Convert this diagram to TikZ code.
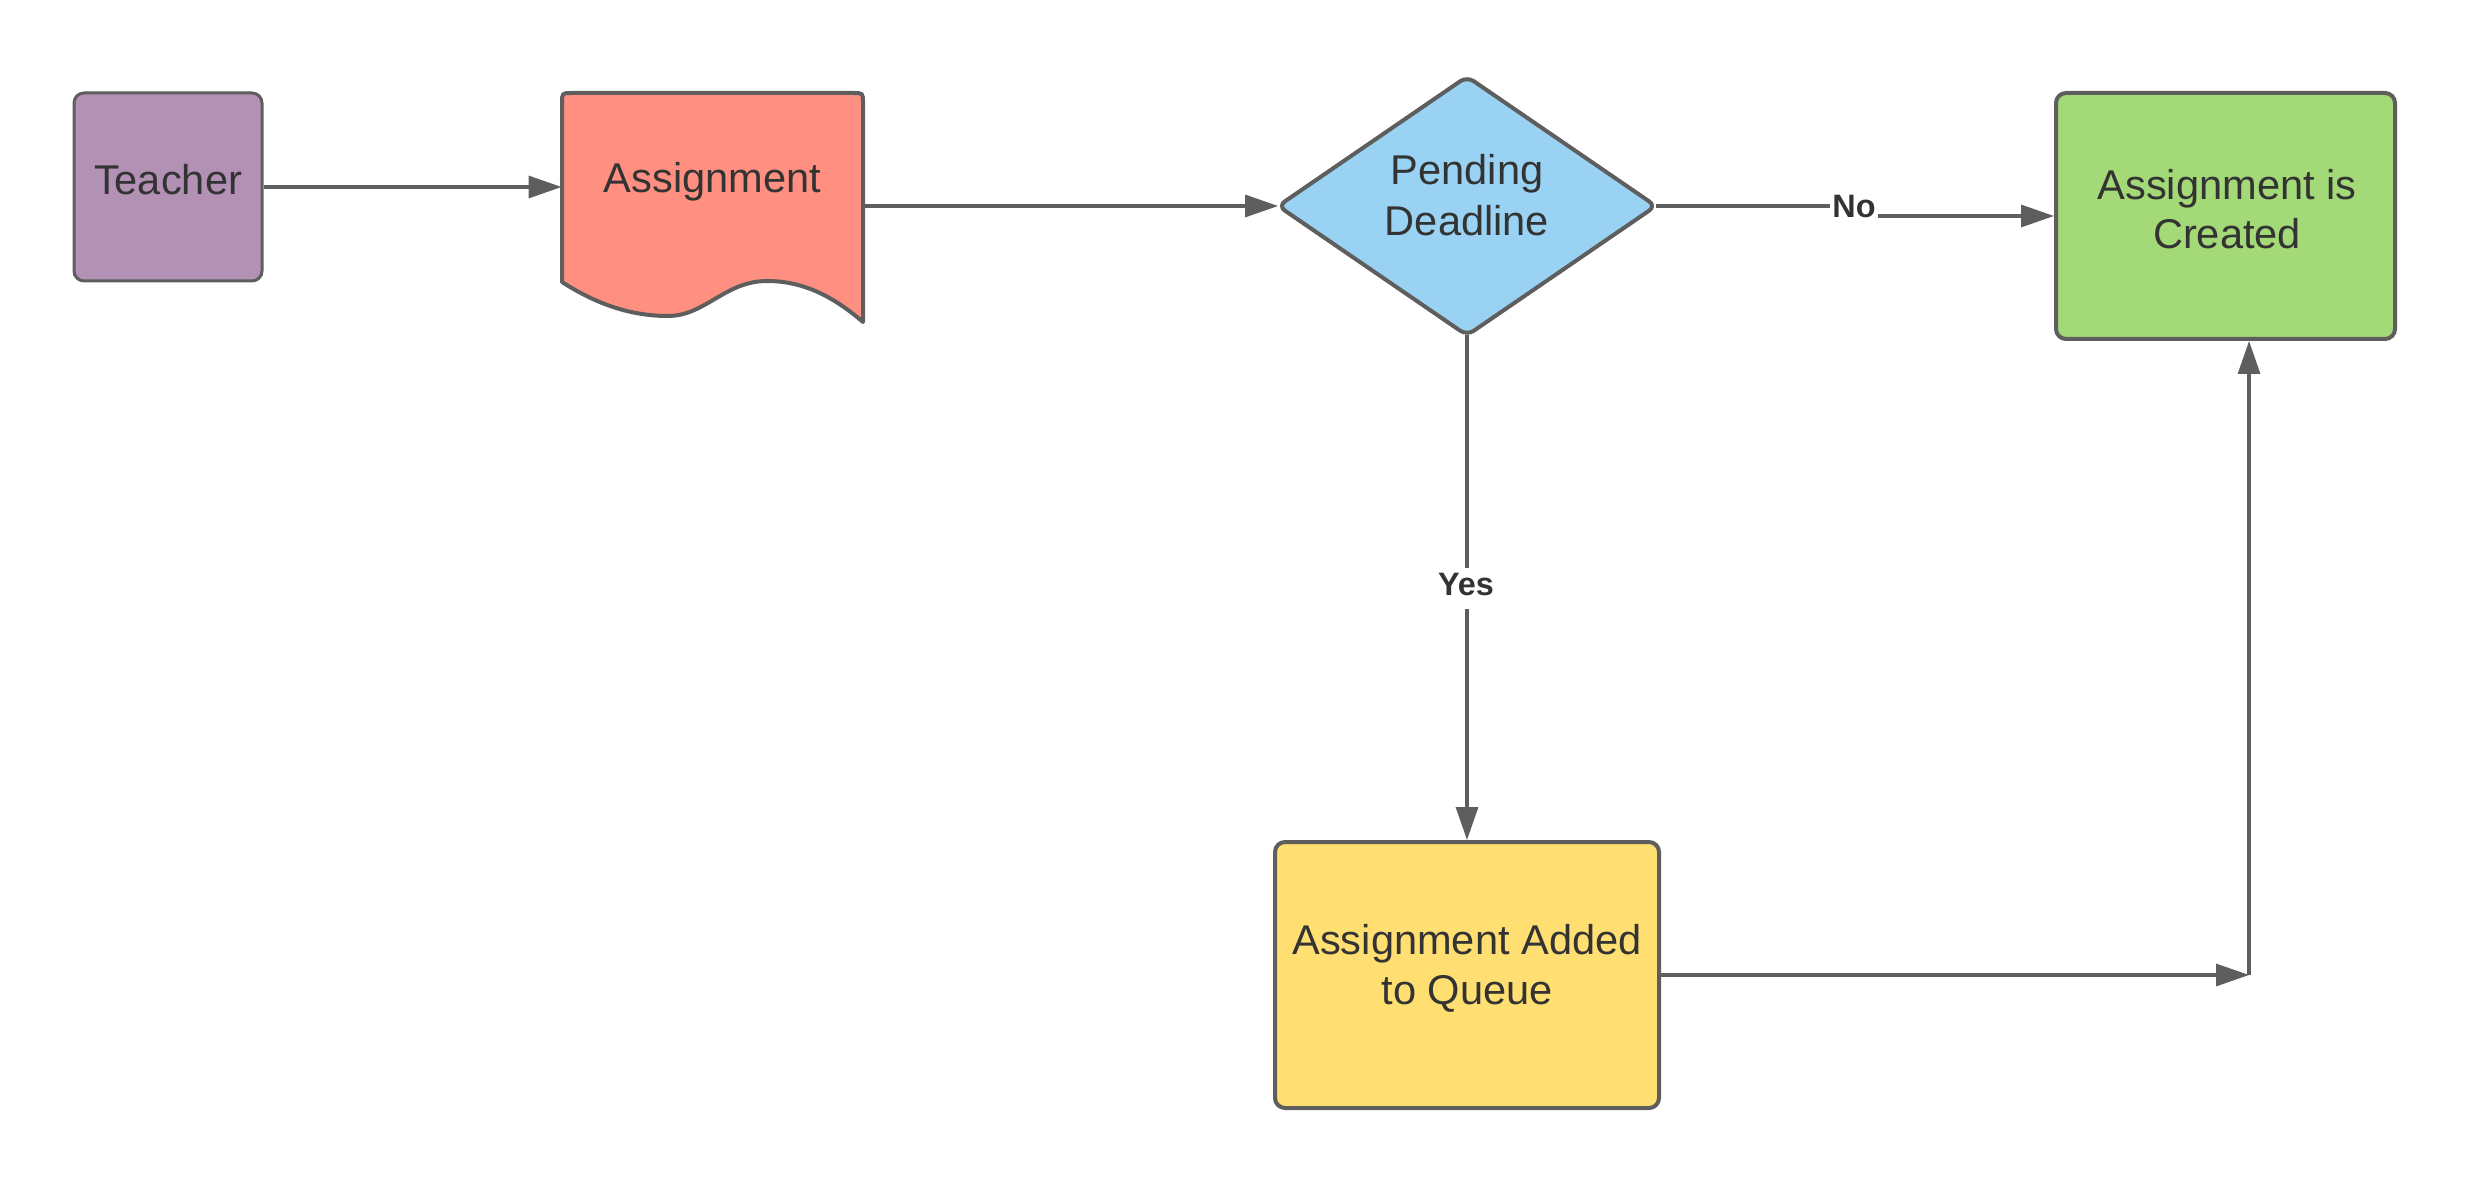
\documentclass[tikz,border=0pt]{standalone}
\usepackage{fontspec}
\setmainfont{Liberation Sans}
\usetikzlibrary{arrows.meta}
\definecolor{lineg}{HTML}{5E5E5E}
\definecolor{txtc}{HTML}{333333}
\definecolor{cpurple}{HTML}{B391B5}
\definecolor{csalmon}{HTML}{FF8F80}
\definecolor{cblue}{HTML}{99D2F2}
\definecolor{cgreen}{HTML}{A3D977}
\definecolor{cyellow}{HTML}{FFDF71}
\begin{document}
\begin{tikzpicture}[x=0.5pt,y=-0.5pt,
  box/.style={draw=lineg, line width=2pt, rounded corners=5pt, inner sep=0pt},
  anchorbox/.style={draw=none, inner sep=0pt},
  lbl/.style={font=\fontsize{20.8}{24.5}\selectfont, text=txtc, anchor=base, inner sep=0pt},
  edgelbl/.style={font=\fontsize{16.2}{18}\selectfont\bfseries, text=txtc, fill=white, anchor=base, inner xsep=1pt, inner ysep=0pt, text height=13.5pt, text depth=7pt},
  conn/.style={draw=lineg, line width=1.6pt},
  arr/.style={conn, -{Triangle[length=16.5pt,width=11pt]}}]
\useasboundingbox (0,0) rectangle (2471,1181);
% Teacher
\node[box, fill=cpurple, line width=1.5pt, minimum width=94pt, minimum height=94pt] (t) at (168,187) {};
\node[lbl] (tt) at (168,195) {Teacher};
% Assignment document
\node[anchorbox, minimum width=150.5pt, minimum height=94.5pt] (doc) at (712.5,187) {};
\filldraw[draw=lineg, fill=csalmon, line width=2pt, line join=round]
  (562,282) -- (562,103) .. controls (562,93) .. (572,93) -- (853,93)
  .. controls (863,93) .. (863,103) -- (863,322)
  .. controls (835,298) and (805,281) .. (767,281)
  .. controls (725,281) and (705,316) .. (668,316)
  .. controls (625,316) and (590,300) .. (562,282) -- cycle;
\node[lbl] (doct) at (712.5,193) {Assignment};
% Decision
\node[anchorbox, minimum width=188.5pt, minimum height=129pt] (d) at (1467,206) {};
\filldraw[draw=lineg, fill=cblue, line width=2pt, rounded corners=4pt]
  (d.west) -- (d.north) -- (d.east) -- (d.south) -- cycle;
\node[lbl] (dt1) at (1467,185) {Pending};
\node[lbl] (dt2) at (1467,236) {Deadline};
% Created
\node[box, fill=cgreen, minimum width=169.5pt, minimum height=123pt] (g) at (2225.5,216) {};
\node[lbl] (gt1) at (2227,200) {Assignment is};
\node[lbl] (gt2) at (2227,249) {Created};
% Queue
\node[box, fill=cyellow, minimum width=192pt, minimum height=133pt] (q) at (1467,975) {};
\node[lbl] (qt1) at (1467,954) {Assignment Added};
\node[lbl] (qt2) at (1467,1004) {to Queue};
% Connectors
\draw[arr] (t.east) -- (doc.west);
\draw[arr] (doc.east |- d.west) -- (d.west);
\coordinate (nojog) at (1854,211);
\draw[arr] (d.east) -- (nojog |- d.east) -- (nojog |- g.west) -- (g.west);
\node[edgelbl] (no) at (1854,218) {No};
\draw[arr] (d.south) -- (q.north);
\node[edgelbl] (yes) at (1466,595) {Yes};
\coordinate (corner) at (2249,975);
\draw[arr] (q.east) -- (corner);
\draw[arr] (corner) -- (corner |- g.south);
\end{tikzpicture}
\end{document}
